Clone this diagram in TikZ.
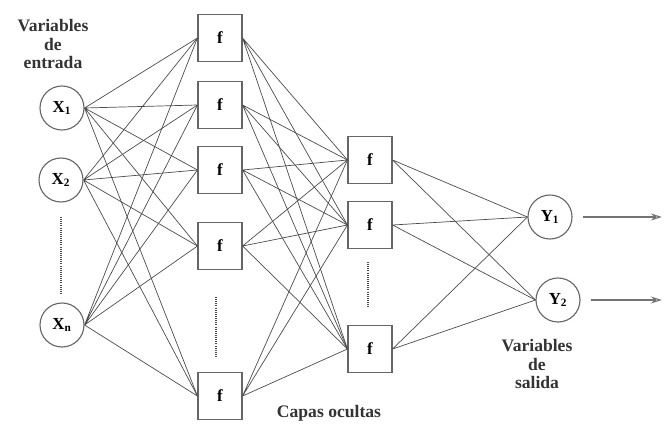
\documentclass[tikz,border=0pt]{standalone}
\usepackage{fontspec}
\setmainfont{Liberation Serif}
\usepackage{tikz}
\usetikzlibrary{arrows.meta}

\begin{document}
\begin{tikzpicture}[x=0.025cm, y=-0.025cm,
    entrada/.style={circle, draw=black!60, thick, minimum size=1.1cm, inner sep=0pt, font=\bfseries\large},
    capa/.style={rectangle, draw=black!60, thick, minimum width=1.1cm, minimum height=1.18cm, inner sep=0pt, font=\bfseries\large},
    enlace/.style={draw=black!70, line width=0.5pt},
    puntos/.style={draw=black!70, line width=1.2pt, dash pattern=on 0.6pt off 0.9pt},
    rotulo/.style={align=center, font=\fontsize{12.5}{13}\selectfont\bfseries, text=black!80},
    flecha/.style={draw=black!55, line width=1.8pt, -{Stealth[open, length=8pt, width=5pt, line width=0.8pt]}}]

    \useasboundingbox (0,0) rectangle (664,428);

    % entradas
    \node[entrada] (X1) at (62,108) {X$_{\mathbf 1}$};

    \node[entrada] (X2) at (61,180) {X$_{\mathbf 2}$};

    \node[entrada] (Xn) at (62,325) {X$_{\mathbf n}$};

    % primera capa oculta
    \node[capa] (A1) at (220,38) {f};

    \node[capa] (A2) at (220,105) {f};

    \node[capa] (A3) at (220,170) {f};

    \node[capa] (A4) at (220,246) {f};

    \node[capa] (A5) at (220,396) {f};

    % segunda capa oculta
    \node[capa] (B1) at (370,160) {f};

    \node[capa] (B2) at (370,225) {f};

    \node[capa] (B3) at (370,349) {f};

    % salidas
    \node[entrada] (Y1) at (550,217) {Y$_{\mathbf 1}$};

    \node[entrada] (Y2) at (558,300) {Y$_{\mathbf 2}$};

    \coordinate (S1) at (662,217);
    \coordinate (S2) at (662,300);


    \draw[enlace] (X1.east) -- (A1.west) (X1.east) -- (A2.west) (X1.east) -- (A3.west)
        (X1.east) -- (A4.west) (X1.east) -- (A5.west);

    \draw[enlace] (X2.east) -- (A1.west) (X2.east) -- (A2.west) (X2.east) -- (A3.west)
        (X2.east) -- (A4.west) (X2.east) -- (A5.west);

    \draw[enlace] (Xn.east) -- (A1.west) (Xn.east) -- (A2.west) (Xn.east) -- (A3.west)
        (Xn.east) -- (A4.west) (Xn.east) -- (A5.west);


    \draw[enlace] (A1.east) -- (B1.west) (A1.east) -- (B2.west) (A1.east) -- (B3.west);

    \draw[enlace] (A2.east) -- (B1.west) (A2.east) -- (B2.west) (A2.east) -- (B3.west);

    \draw[enlace] (A3.east) -- (B1.west) (A3.east) -- (B2.west) (A3.east) -- (B3.west);

    \draw[enlace] (A4.east) -- (B1.west) (A4.east) -- (B2.west) (A4.east) -- (B3.west);

    \draw[enlace] (A5.east) -- (B1.west) (A5.east) -- (B2.west) (A5.east) -- (B3.west);


    \draw[enlace] (B1.east) -- (Y1.west) (B1.east) -- (Y2.west);

    \draw[enlace] (B2.east) -- (Y1.west) (B2.east) -- (Y2.west);

    \draw[enlace] (B3.east) -- (Y1.west) (B3.east) -- (Y2.west);


    \draw[flecha] ([xshift=0.25cm]Y1.east) -- (S1);

    \draw[flecha] ([xshift=0.25cm]Y2.east) -- (S2);

    % puntos suspensivos
    \draw[puntos] (61,217) -- (61,295);

    \draw[puntos] (216,297) -- (216,358);

    \draw[puntos] (368,262) -- (368,307);

    % rotulos
    \node[rotulo] (entr) at (53,44) {Variables\\de\\entrada};

    \node[rotulo] (sal) at (537,364) {Variables\\de\\salida};

    \node[rotulo] (ocul) at (329,413) {Capas ocultas};

\end{tikzpicture}
\end{document}
